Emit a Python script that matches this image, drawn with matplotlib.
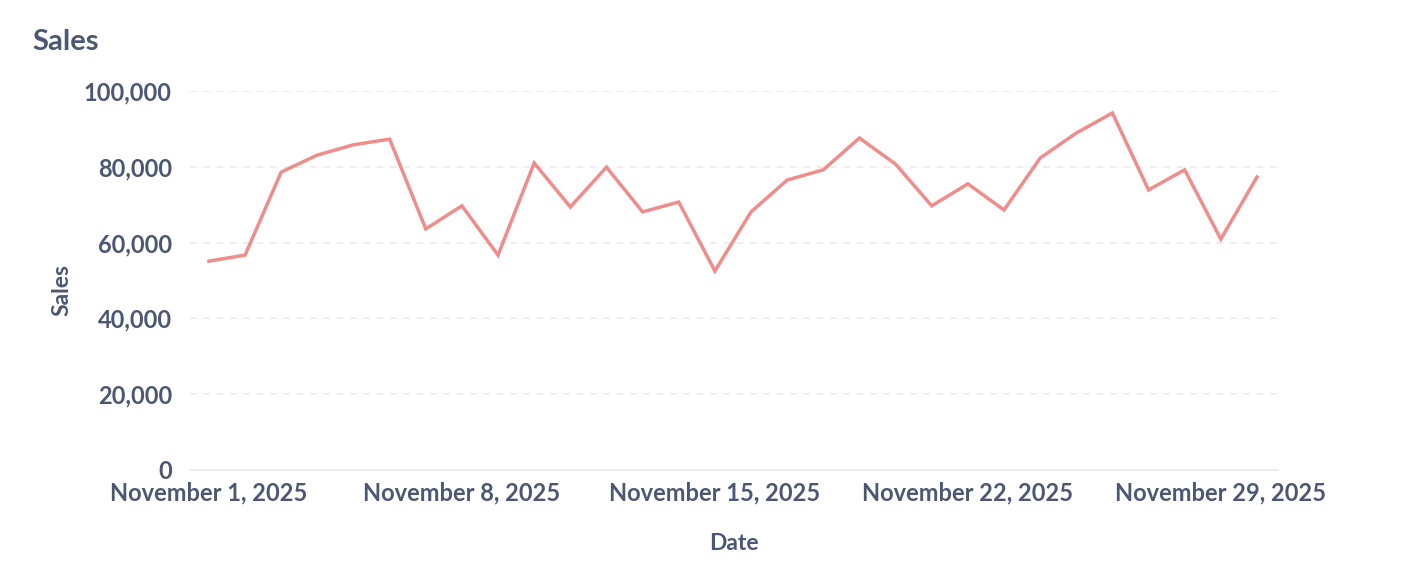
import numpy as np
import pandas as pd
import matplotlib
matplotlib.use("Agg")
import matplotlib.pyplot as plt
import matplotlib.dates as mdates
from matplotlib.ticker import FuncFormatter

# daily sales, November 2025
dates = pd.date_range("2025-11-01", "2025-11-30", freq="D")
sales = [55100, 56700, 78600, 83100, 85800, 87300, 63600, 69700, 56700, 81000,
         69400, 79900, 68100, 70700, 52500, 68100, 76500, 79200, 87600, 80700,
         69700, 75500, 68600, 82300, 88900, 94200, 73900, 79200, 60900, 77300]
y_ticks = [0, 20000, 40000, 60000, 80000, 100000]
x_ticks = pd.to_datetime(["2025-11-01", "2025-11-08", "2025-11-15",
                          "2025-11-22", "2025-11-29"])

text_color = "#4C5773"
line_color = "#EF8C8C"
plt.rcParams["font.family"] = ["Lato", "DejaVu Sans"]

fig = plt.figure(figsize=(14.04, 5.80), dpi=100)
ax = fig.add_axes([0.1353, 0.1897, 0.775, 0.6534])

ax.plot(dates, sales, color=line_color, linewidth=2.5, solid_joinstyle="miter")

ax.set_ylim(0, 100000)
ax.set_yticks(y_ticks)
ax.yaxis.set_major_formatter(FuncFormatter(lambda v, p: f"{int(v):,}"))
ax.set_xlim(dates[0] - pd.Timedelta(hours=12.6), dates[-1] + pd.Timedelta(hours=14))
ax.set_xticks(x_ticks)
ax.xaxis.set_major_formatter(FuncFormatter(
    lambda v, p: mdates.num2date(v).strftime("%B %-d, %Y")))

ax.grid(axis="y", color="#EBEBEB", linestyle=(0, (4, 4)), linewidth=1.2)
ax.set_axisbelow(True)
for s in ["top", "right", "left"]:
    ax.spines[s].set_visible(False)
ax.spines["bottom"].set_color("#EBEBEB")
ax.spines["bottom"].set_linewidth(1.2)
ax.tick_params(length=0, labelsize=17, labelcolor=text_color)
ax.tick_params(axis="y", pad=13)
ax.tick_params(axis="x", pad=8)
for lab in ax.get_xticklabels() + ax.get_yticklabels():
    lab.set_fontweight("bold")

ax.set_ylabel("Sales", fontsize=16.5, fontweight="bold", color=text_color)
ax.yaxis.set_label_coords(-0.108, 0.475)
ax.set_xlabel("Date", fontsize=16.5, fontweight="bold", color=text_color)
ax.xaxis.set_label_coords(0.5, -0.165)

fig.text(32 / 1404, 1 - 42 / 580, "Sales", fontsize=21, fontweight="bold",
         color=text_color, ha="left", va="center")

fig.savefig("out.png", dpi=100)
